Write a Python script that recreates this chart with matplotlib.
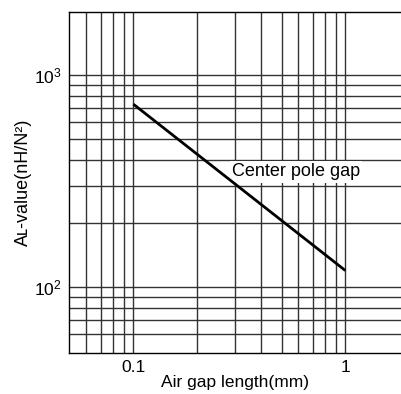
import matplotlib
matplotlib.use('Agg')
import matplotlib.pyplot as plt
from matplotlib.ticker import FixedLocator, FixedFormatter, NullFormatter

#fonts: helvetica look-alike, with DejaVu as fallback for the small-cap L
plt.rcParams['font.family'] = ['Liberation Sans', 'DejaVu Sans']
plt.rcParams['mathtext.fontset'] = 'custom'
plt.rcParams['mathtext.rm'] = 'Liberation Sans'

#Data
gap_mm = [0.1, 1.0]
al_value = [730, 120]

#tick positions and labels
x_major = [0.1, 1]
x_major_labels = ['0.1', '1']
x_minor = [0.06, 0.07, 0.08, 0.09, 0.2, 0.3, 0.4, 0.5, 0.6, 0.7, 0.8, 0.9]
y_major = [100, 1000]
y_major_labels = [r'$\mathregular{10^{2}}$', r'$\mathregular{10^{3}}$']
y_minor = [60, 70, 80, 90, 200, 300, 400, 500, 600, 700, 800, 900]

#Parameters
lntk = 2.0 #line thickness
gridc = '#333333'

f = plt.figure(figsize=(4.02, 3.94), dpi=100)
ax = f.add_axes([69/402., 41.3/394., 333/402., 340.7/394.])
ax.set_xscale('log')
ax.set_yscale('log')
ax.set_xlim((0.0497, 1.85))
ax.set_ylim((49.2, 1985))

ax.xaxis.set_major_locator(FixedLocator(x_major))
ax.xaxis.set_major_formatter(FixedFormatter(x_major_labels))
ax.xaxis.set_minor_locator(FixedLocator(x_minor))
ax.xaxis.set_minor_formatter(NullFormatter())
ax.yaxis.set_major_locator(FixedLocator(y_major))
ax.yaxis.set_major_formatter(FixedFormatter(y_major_labels))
ax.yaxis.set_minor_locator(FixedLocator(y_minor))
ax.yaxis.set_minor_formatter(NullFormatter())

#no tick marks, only grid
ax.tick_params(which='both', length=0, labelsize=12.5, pad=5)
ax.grid(which='both', color=gridc, lw=1.0)
ax.set_axisbelow(True)

for s in ['left', 'bottom', 'top']:
    ax.spines[s].set_linewidth(1.0)
    ax.spines[s].set_color('black')
ax.spines['right'].set_visible(False)

##Plot the curve
ax.plot(gap_mm, al_value, '-', color='black', lw=lntk, zorder=4, solid_capstyle='butt')

#label on white patch
ax.text(0.291, 350, 'Center pole gap', fontsize=13, ha='left', va='center', zorder=3,
        bbox=dict(fc='white', ec='none', pad=1.5))

#label the axes (kept just inside the bottom edge)
ax.set_xlabel('Air gap length(mm)', size=12.5, labelpad=0.5)
ax.set_ylabel('A\u029f-value(nH/N\u00b2)', size=13, labelpad=2)

f.savefig('out.png', dpi=100)
